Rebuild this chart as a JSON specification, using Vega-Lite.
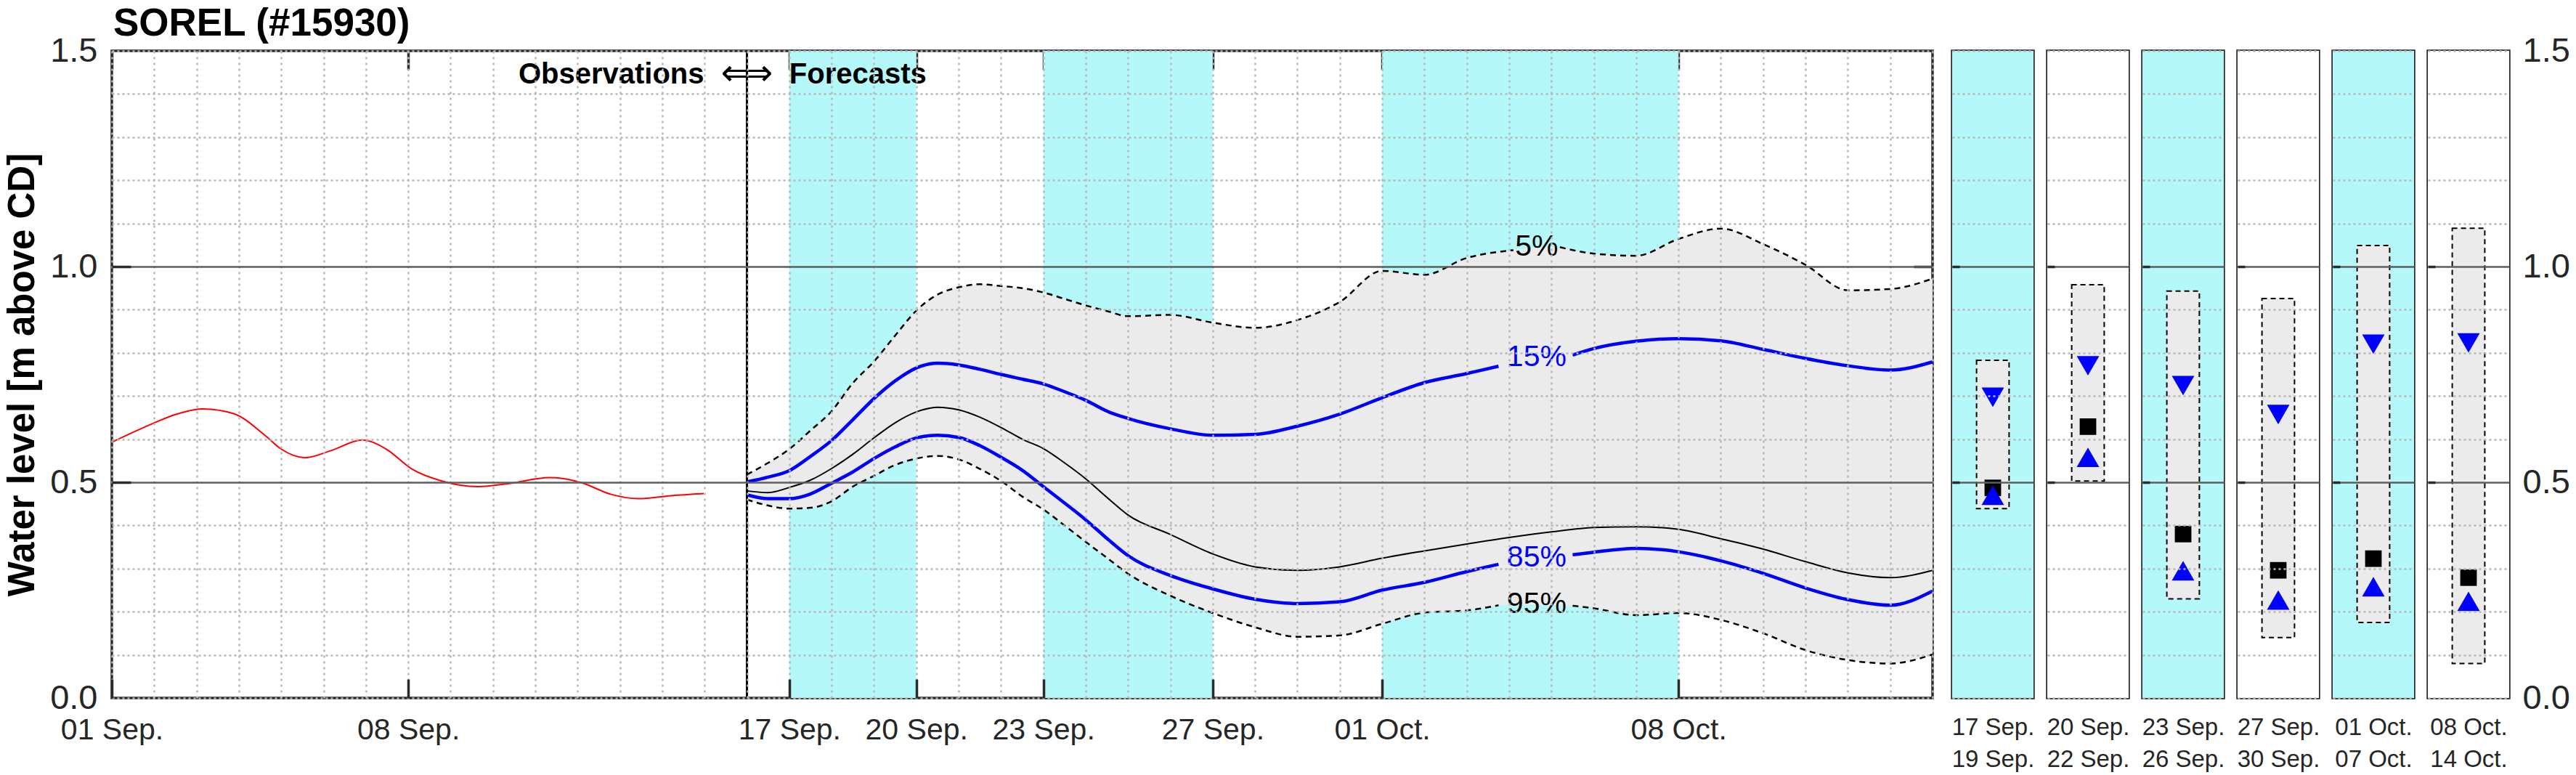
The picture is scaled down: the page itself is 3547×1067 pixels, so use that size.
{
  "$schema": "https://vega.github.io/schema/vega-lite/v6.json",
  "background": "white",
  "padding": {"left": 3, "top": 5, "right": 0, "bottom": 0},
  "config": {
    "font": "Liberation Sans",
    "view": {"stroke": "#2b2b2b", "strokeWidth": 3.5},
    "axis": {"labelFont": "Liberation Sans", "labelColor": "#262626", "domain": false, "labelOverlap": false, "labelFlush": false, "tickColor": "#2b2b2b", "tickWidth": 3.5}
  },
  "datasets": {
    "bands": [
      {"s": "2023-09-17T00:00", "e": "2023-09-20T00:00"},
      {"s": "2023-09-23T00:00", "e": "2023-09-27T00:00"},
      {"s": "2023-10-01T00:00", "e": "2023-10-08T00:00"}
    ],
    "obs": [
      {"t": "2023-09-01T00:00", "v": 0.593},
      {"t": "2023-09-01T22:30", "v": 0.635},
      {"t": "2023-09-02T12:00", "v": 0.657},
      {"t": "2023-09-03T03:30", "v": 0.670},
      {"t": "2023-09-03T21:00", "v": 0.659},
      {"t": "2023-09-04T14:30", "v": 0.610},
      {"t": "2023-09-05T00:00", "v": 0.577},
      {"t": "2023-09-05T13:30", "v": 0.557},
      {"t": "2023-09-06T04:00", "v": 0.573},
      {"t": "2023-09-06T22:00", "v": 0.598},
      {"t": "2023-09-07T11:30", "v": 0.577},
      {"t": "2023-09-08T02:00", "v": 0.531},
      {"t": "2023-09-08T19:00", "v": 0.503},
      {"t": "2023-09-09T15:30", "v": 0.490},
      {"t": "2023-09-10T09:00", "v": 0.497},
      {"t": "2023-09-11T08:00", "v": 0.511},
      {"t": "2023-09-12T01:30", "v": 0.500},
      {"t": "2023-09-12T19:00", "v": 0.472},
      {"t": "2023-09-13T10:30", "v": 0.462},
      {"t": "2023-09-14T05:00", "v": 0.469},
      {"t": "2023-09-14T23:30", "v": 0.474}
    ],
    "band": [
      {"t": "2023-09-16T00:00", "lo": 0.460, "hi": 0.518},
      {"t": "2023-09-16T12:00", "lo": 0.446, "hi": 0.545},
      {"t": "2023-09-17T00:00", "lo": 0.439, "hi": 0.577},
      {"t": "2023-09-17T12:00", "lo": 0.441, "hi": 0.620},
      {"t": "2023-09-18T00:00", "lo": 0.456, "hi": 0.665},
      {"t": "2023-09-18T12:00", "lo": 0.490, "hi": 0.730},
      {"t": "2023-09-19T00:00", "lo": 0.515, "hi": 0.780},
      {"t": "2023-09-19T12:00", "lo": 0.540, "hi": 0.840},
      {"t": "2023-09-20T00:00", "lo": 0.555, "hi": 0.898},
      {"t": "2023-09-20T12:00", "lo": 0.561, "hi": 0.935},
      {"t": "2023-09-21T00:00", "lo": 0.553, "hi": 0.952},
      {"t": "2023-09-21T12:00", "lo": 0.531, "hi": 0.959},
      {"t": "2023-09-22T00:00", "lo": 0.503, "hi": 0.955},
      {"t": "2023-09-22T12:00", "lo": 0.467, "hi": 0.950},
      {"t": "2023-09-23T00:00", "lo": 0.437, "hi": 0.940},
      {"t": "2023-09-23T12:00", "lo": 0.400, "hi": 0.925},
      {"t": "2023-09-24T00:00", "lo": 0.362, "hi": 0.910},
      {"t": "2023-09-24T12:00", "lo": 0.325, "hi": 0.897},
      {"t": "2023-09-25T00:00", "lo": 0.288, "hi": 0.885},
      {"t": "2023-09-26T00:00", "lo": 0.237, "hi": 0.888},
      {"t": "2023-09-27T00:00", "lo": 0.197, "hi": 0.870},
      {"t": "2023-09-28T00:00", "lo": 0.164, "hi": 0.858},
      {"t": "2023-09-29T00:00", "lo": 0.142, "hi": 0.876},
      {"t": "2023-09-30T00:00", "lo": 0.145, "hi": 0.918},
      {"t": "2023-10-01T00:00", "lo": 0.172, "hi": 0.990},
      {"t": "2023-10-02T00:00", "lo": 0.198, "hi": 0.981},
      {"t": "2023-10-03T00:00", "lo": 0.203, "hi": 1.020},
      {"t": "2023-10-04T00:00", "lo": 0.216, "hi": 1.037},
      {"t": "2023-10-05T00:00", "lo": 0.215, "hi": 1.045},
      {"t": "2023-10-06T00:00", "lo": 0.208, "hi": 1.030},
      {"t": "2023-10-07T00:00", "lo": 0.192, "hi": 1.025},
      {"t": "2023-10-08T00:00", "lo": 0.197, "hi": 1.064},
      {"t": "2023-10-09T00:00", "lo": 0.181, "hi": 1.088},
      {"t": "2023-10-10T00:00", "lo": 0.150, "hi": 1.052},
      {"t": "2023-10-11T00:00", "lo": 0.111, "hi": 1.004},
      {"t": "2023-10-12T00:00", "lo": 0.088, "hi": 0.945},
      {"t": "2023-10-13T00:00", "lo": 0.080, "hi": 0.948},
      {"t": "2023-10-14T00:00", "lo": 0.101, "hi": 0.972}
    ],
    "lines": [
      {"s": "p05", "g": 1, "t": "2023-09-16T00:00", "v": 0.518},
      {"s": "p05", "g": 1, "t": "2023-09-16T12:00", "v": 0.545},
      {"s": "p05", "g": 1, "t": "2023-09-17T00:00", "v": 0.577},
      {"s": "p05", "g": 1, "t": "2023-09-17T12:00", "v": 0.620},
      {"s": "p05", "g": 1, "t": "2023-09-18T00:00", "v": 0.665},
      {"s": "p05", "g": 1, "t": "2023-09-18T12:00", "v": 0.730},
      {"s": "p05", "g": 1, "t": "2023-09-19T00:00", "v": 0.780},
      {"s": "p05", "g": 1, "t": "2023-09-19T12:00", "v": 0.840},
      {"s": "p05", "g": 1, "t": "2023-09-20T00:00", "v": 0.898},
      {"s": "p05", "g": 1, "t": "2023-09-20T12:00", "v": 0.935},
      {"s": "p05", "g": 1, "t": "2023-09-21T00:00", "v": 0.952},
      {"s": "p05", "g": 1, "t": "2023-09-21T12:00", "v": 0.959},
      {"s": "p05", "g": 1, "t": "2023-09-22T00:00", "v": 0.955},
      {"s": "p05", "g": 1, "t": "2023-09-22T12:00", "v": 0.950},
      {"s": "p05", "g": 1, "t": "2023-09-23T00:00", "v": 0.940},
      {"s": "p05", "g": 1, "t": "2023-09-23T12:00", "v": 0.925},
      {"s": "p05", "g": 1, "t": "2023-09-24T00:00", "v": 0.910},
      {"s": "p05", "g": 1, "t": "2023-09-24T12:00", "v": 0.897},
      {"s": "p05", "g": 1, "t": "2023-09-25T00:00", "v": 0.885},
      {"s": "p05", "g": 1, "t": "2023-09-26T00:00", "v": 0.888},
      {"s": "p05", "g": 1, "t": "2023-09-27T00:00", "v": 0.870},
      {"s": "p05", "g": 1, "t": "2023-09-28T00:00", "v": 0.858},
      {"s": "p05", "g": 1, "t": "2023-09-29T00:00", "v": 0.876},
      {"s": "p05", "g": 1, "t": "2023-09-30T00:00", "v": 0.918},
      {"s": "p05", "g": 1, "t": "2023-10-01T00:00", "v": 0.990},
      {"s": "p05", "g": 1, "t": "2023-10-02T00:00", "v": 0.981},
      {"s": "p05", "g": 1, "t": "2023-10-03T00:00", "v": 1.020},
      {"s": "p05", "g": 1, "t": "2023-10-04T00:00", "v": 1.037},
      {"s": "p05", "g": 1, "t": "2023-10-04T02:24", "v": 1.038},
      {"s": "p05", "g": 2, "t": "2023-10-05T04:48", "v": 1.045},
      {"s": "p05", "g": 2, "t": "2023-10-06T00:00", "v": 1.030},
      {"s": "p05", "g": 2, "t": "2023-10-07T00:00", "v": 1.025},
      {"s": "p05", "g": 2, "t": "2023-10-08T00:00", "v": 1.064},
      {"s": "p05", "g": 2, "t": "2023-10-09T00:00", "v": 1.088},
      {"s": "p05", "g": 2, "t": "2023-10-10T00:00", "v": 1.052},
      {"s": "p05", "g": 2, "t": "2023-10-11T00:00", "v": 1.004},
      {"s": "p05", "g": 2, "t": "2023-10-12T00:00", "v": 0.945},
      {"s": "p05", "g": 2, "t": "2023-10-13T00:00", "v": 0.948},
      {"s": "p05", "g": 2, "t": "2023-10-14T00:00", "v": 0.972},

      {"s": "p15", "g": 1, "t": "2023-09-16T00:00", "v": 0.501},
      {"s": "p15", "g": 1, "t": "2023-09-16T12:00", "v": 0.512},
      {"s": "p15", "g": 1, "t": "2023-09-17T00:00", "v": 0.527},
      {"s": "p15", "g": 1, "t": "2023-09-17T12:00", "v": 0.560},
      {"s": "p15", "g": 1, "t": "2023-09-18T00:00", "v": 0.597},
      {"s": "p15", "g": 1, "t": "2023-09-18T12:00", "v": 0.645},
      {"s": "p15", "g": 1, "t": "2023-09-19T00:00", "v": 0.694},
      {"s": "p15", "g": 1, "t": "2023-09-19T12:00", "v": 0.735},
      {"s": "p15", "g": 1, "t": "2023-09-20T00:00", "v": 0.765},
      {"s": "p15", "g": 1, "t": "2023-09-20T12:00", "v": 0.776},
      {"s": "p15", "g": 1, "t": "2023-09-21T00:00", "v": 0.772},
      {"s": "p15", "g": 1, "t": "2023-09-21T12:00", "v": 0.762},
      {"s": "p15", "g": 1, "t": "2023-09-22T00:00", "v": 0.750},
      {"s": "p15", "g": 1, "t": "2023-09-22T12:00", "v": 0.739},
      {"s": "p15", "g": 1, "t": "2023-09-23T00:00", "v": 0.728},
      {"s": "p15", "g": 1, "t": "2023-09-23T12:00", "v": 0.710},
      {"s": "p15", "g": 1, "t": "2023-09-24T00:00", "v": 0.690},
      {"s": "p15", "g": 1, "t": "2023-09-24T12:00", "v": 0.665},
      {"s": "p15", "g": 1, "t": "2023-09-25T00:00", "v": 0.648},
      {"s": "p15", "g": 1, "t": "2023-09-26T00:00", "v": 0.624},
      {"s": "p15", "g": 1, "t": "2023-09-27T00:00", "v": 0.609},
      {"s": "p15", "g": 1, "t": "2023-09-28T00:00", "v": 0.611},
      {"s": "p15", "g": 1, "t": "2023-09-29T00:00", "v": 0.630},
      {"s": "p15", "g": 1, "t": "2023-09-30T00:00", "v": 0.658},
      {"s": "p15", "g": 1, "t": "2023-10-01T00:00", "v": 0.696},
      {"s": "p15", "g": 1, "t": "2023-10-02T00:00", "v": 0.731},
      {"s": "p15", "g": 1, "t": "2023-10-03T00:00", "v": 0.752},
      {"s": "p15", "g": 1, "t": "2023-10-03T18:00", "v": 0.769},
      {"s": "p15", "g": 2, "t": "2023-10-05T12:00", "v": 0.795},
      {"s": "p15", "g": 2, "t": "2023-10-06T00:00", "v": 0.810},
      {"s": "p15", "g": 2, "t": "2023-10-07T00:00", "v": 0.827},
      {"s": "p15", "g": 2, "t": "2023-10-08T00:00", "v": 0.833},
      {"s": "p15", "g": 2, "t": "2023-10-09T00:00", "v": 0.828},
      {"s": "p15", "g": 2, "t": "2023-10-10T00:00", "v": 0.808},
      {"s": "p15", "g": 2, "t": "2023-10-11T00:00", "v": 0.787},
      {"s": "p15", "g": 2, "t": "2023-10-12T00:00", "v": 0.770},
      {"s": "p15", "g": 2, "t": "2023-10-13T00:00", "v": 0.760},
      {"s": "p15", "g": 2, "t": "2023-10-14T00:00", "v": 0.779},

      {"s": "p50", "g": 1, "t": "2023-09-16T00:00", "v": 0.480},
      {"s": "p50", "g": 1, "t": "2023-09-16T12:00", "v": 0.476},
      {"s": "p50", "g": 1, "t": "2023-09-17T00:00", "v": 0.488},
      {"s": "p50", "g": 1, "t": "2023-09-17T12:00", "v": 0.505},
      {"s": "p50", "g": 1, "t": "2023-09-18T00:00", "v": 0.532},
      {"s": "p50", "g": 1, "t": "2023-09-18T12:00", "v": 0.565},
      {"s": "p50", "g": 1, "t": "2023-09-19T00:00", "v": 0.603},
      {"s": "p50", "g": 1, "t": "2023-09-19T12:00", "v": 0.638},
      {"s": "p50", "g": 1, "t": "2023-09-20T00:00", "v": 0.663},
      {"s": "p50", "g": 1, "t": "2023-09-20T12:00", "v": 0.674},
      {"s": "p50", "g": 1, "t": "2023-09-21T00:00", "v": 0.668},
      {"s": "p50", "g": 1, "t": "2023-09-21T12:00", "v": 0.651},
      {"s": "p50", "g": 1, "t": "2023-09-22T00:00", "v": 0.627},
      {"s": "p50", "g": 1, "t": "2023-09-22T12:00", "v": 0.600},
      {"s": "p50", "g": 1, "t": "2023-09-23T00:00", "v": 0.578},
      {"s": "p50", "g": 1, "t": "2023-09-23T12:00", "v": 0.545},
      {"s": "p50", "g": 1, "t": "2023-09-24T00:00", "v": 0.508},
      {"s": "p50", "g": 1, "t": "2023-09-24T12:00", "v": 0.465},
      {"s": "p50", "g": 1, "t": "2023-09-25T00:00", "v": 0.424},
      {"s": "p50", "g": 1, "t": "2023-09-26T00:00", "v": 0.379},
      {"s": "p50", "g": 1, "t": "2023-09-27T00:00", "v": 0.334},
      {"s": "p50", "g": 1, "t": "2023-09-28T00:00", "v": 0.304},
      {"s": "p50", "g": 1, "t": "2023-09-29T00:00", "v": 0.296},
      {"s": "p50", "g": 1, "t": "2023-09-30T00:00", "v": 0.304},
      {"s": "p50", "g": 1, "t": "2023-10-01T00:00", "v": 0.324},
      {"s": "p50", "g": 1, "t": "2023-10-02T00:00", "v": 0.341},
      {"s": "p50", "g": 1, "t": "2023-10-03T00:00", "v": 0.357},
      {"s": "p50", "g": 1, "t": "2023-10-04T00:00", "v": 0.372},
      {"s": "p50", "g": 1, "t": "2023-10-05T00:00", "v": 0.385},
      {"s": "p50", "g": 1, "t": "2023-10-06T00:00", "v": 0.395},
      {"s": "p50", "g": 1, "t": "2023-10-07T00:00", "v": 0.397},
      {"s": "p50", "g": 1, "t": "2023-10-08T00:00", "v": 0.391},
      {"s": "p50", "g": 1, "t": "2023-10-09T00:00", "v": 0.369},
      {"s": "p50", "g": 1, "t": "2023-10-10T00:00", "v": 0.345},
      {"s": "p50", "g": 1, "t": "2023-10-11T00:00", "v": 0.316},
      {"s": "p50", "g": 1, "t": "2023-10-12T00:00", "v": 0.290},
      {"s": "p50", "g": 1, "t": "2023-10-13T00:00", "v": 0.279},
      {"s": "p50", "g": 1, "t": "2023-10-14T00:00", "v": 0.296},

      {"s": "p85", "g": 1, "t": "2023-09-16T00:00", "v": 0.471},
      {"s": "p85", "g": 1, "t": "2023-09-16T12:00", "v": 0.462},
      {"s": "p85", "g": 1, "t": "2023-09-17T00:00", "v": 0.462},
      {"s": "p85", "g": 1, "t": "2023-09-17T12:00", "v": 0.473},
      {"s": "p85", "g": 1, "t": "2023-09-18T00:00", "v": 0.498},
      {"s": "p85", "g": 1, "t": "2023-09-18T12:00", "v": 0.524},
      {"s": "p85", "g": 1, "t": "2023-09-19T00:00", "v": 0.555},
      {"s": "p85", "g": 1, "t": "2023-09-19T12:00", "v": 0.582},
      {"s": "p85", "g": 1, "t": "2023-09-20T00:00", "v": 0.603},
      {"s": "p85", "g": 1, "t": "2023-09-20T12:00", "v": 0.609},
      {"s": "p85", "g": 1, "t": "2023-09-21T00:00", "v": 0.604},
      {"s": "p85", "g": 1, "t": "2023-09-21T12:00", "v": 0.585},
      {"s": "p85", "g": 1, "t": "2023-09-22T00:00", "v": 0.558},
      {"s": "p85", "g": 1, "t": "2023-09-22T12:00", "v": 0.528},
      {"s": "p85", "g": 1, "t": "2023-09-23T00:00", "v": 0.490},
      {"s": "p85", "g": 1, "t": "2023-09-23T12:00", "v": 0.452},
      {"s": "p85", "g": 1, "t": "2023-09-24T00:00", "v": 0.413},
      {"s": "p85", "g": 1, "t": "2023-09-24T12:00", "v": 0.370},
      {"s": "p85", "g": 1, "t": "2023-09-25T00:00", "v": 0.330},
      {"s": "p85", "g": 1, "t": "2023-09-26T00:00", "v": 0.284},
      {"s": "p85", "g": 1, "t": "2023-09-27T00:00", "v": 0.253},
      {"s": "p85", "g": 1, "t": "2023-09-28T00:00", "v": 0.229},
      {"s": "p85", "g": 1, "t": "2023-09-29T00:00", "v": 0.219},
      {"s": "p85", "g": 1, "t": "2023-09-30T00:00", "v": 0.223},
      {"s": "p85", "g": 1, "t": "2023-10-01T00:00", "v": 0.250},
      {"s": "p85", "g": 1, "t": "2023-10-02T00:00", "v": 0.268},
      {"s": "p85", "g": 1, "t": "2023-10-03T00:00", "v": 0.293},
      {"s": "p85", "g": 1, "t": "2023-10-03T18:00", "v": 0.310},
      {"s": "p85", "g": 2, "t": "2023-10-05T12:00", "v": 0.332},
      {"s": "p85", "g": 2, "t": "2023-10-06T00:00", "v": 0.338},
      {"s": "p85", "g": 2, "t": "2023-10-07T00:00", "v": 0.347},
      {"s": "p85", "g": 2, "t": "2023-10-08T00:00", "v": 0.339},
      {"s": "p85", "g": 2, "t": "2023-10-09T00:00", "v": 0.318},
      {"s": "p85", "g": 2, "t": "2023-10-10T00:00", "v": 0.289},
      {"s": "p85", "g": 2, "t": "2023-10-11T00:00", "v": 0.255},
      {"s": "p85", "g": 2, "t": "2023-10-12T00:00", "v": 0.228},
      {"s": "p85", "g": 2, "t": "2023-10-13T00:00", "v": 0.215},
      {"s": "p85", "g": 2, "t": "2023-10-14T00:00", "v": 0.248},

      {"s": "p95", "g": 1, "t": "2023-09-16T00:00", "v": 0.460},
      {"s": "p95", "g": 1, "t": "2023-09-16T12:00", "v": 0.446},
      {"s": "p95", "g": 1, "t": "2023-09-17T00:00", "v": 0.439},
      {"s": "p95", "g": 1, "t": "2023-09-17T12:00", "v": 0.441},
      {"s": "p95", "g": 1, "t": "2023-09-18T00:00", "v": 0.456},
      {"s": "p95", "g": 1, "t": "2023-09-18T12:00", "v": 0.490},
      {"s": "p95", "g": 1, "t": "2023-09-19T00:00", "v": 0.515},
      {"s": "p95", "g": 1, "t": "2023-09-19T12:00", "v": 0.540},
      {"s": "p95", "g": 1, "t": "2023-09-20T00:00", "v": 0.555},
      {"s": "p95", "g": 1, "t": "2023-09-20T12:00", "v": 0.561},
      {"s": "p95", "g": 1, "t": "2023-09-21T00:00", "v": 0.553},
      {"s": "p95", "g": 1, "t": "2023-09-21T12:00", "v": 0.531},
      {"s": "p95", "g": 1, "t": "2023-09-22T00:00", "v": 0.503},
      {"s": "p95", "g": 1, "t": "2023-09-22T12:00", "v": 0.467},
      {"s": "p95", "g": 1, "t": "2023-09-23T00:00", "v": 0.437},
      {"s": "p95", "g": 1, "t": "2023-09-23T12:00", "v": 0.400},
      {"s": "p95", "g": 1, "t": "2023-09-24T00:00", "v": 0.362},
      {"s": "p95", "g": 1, "t": "2023-09-24T12:00", "v": 0.325},
      {"s": "p95", "g": 1, "t": "2023-09-25T00:00", "v": 0.288},
      {"s": "p95", "g": 1, "t": "2023-09-26T00:00", "v": 0.237},
      {"s": "p95", "g": 1, "t": "2023-09-27T00:00", "v": 0.197},
      {"s": "p95", "g": 1, "t": "2023-09-28T00:00", "v": 0.164},
      {"s": "p95", "g": 1, "t": "2023-09-29T00:00", "v": 0.142},
      {"s": "p95", "g": 1, "t": "2023-09-30T00:00", "v": 0.145},
      {"s": "p95", "g": 1, "t": "2023-10-01T00:00", "v": 0.172},
      {"s": "p95", "g": 1, "t": "2023-10-02T00:00", "v": 0.198},
      {"s": "p95", "g": 1, "t": "2023-10-03T00:00", "v": 0.203},
      {"s": "p95", "g": 1, "t": "2023-10-03T18:00", "v": 0.215},
      {"s": "p95", "g": 2, "t": "2023-10-05T12:00", "v": 0.214},
      {"s": "p95", "g": 2, "t": "2023-10-06T00:00", "v": 0.208},
      {"s": "p95", "g": 2, "t": "2023-10-07T00:00", "v": 0.192},
      {"s": "p95", "g": 2, "t": "2023-10-08T00:00", "v": 0.197},
      {"s": "p95", "g": 2, "t": "2023-10-09T00:00", "v": 0.181},
      {"s": "p95", "g": 2, "t": "2023-10-10T00:00", "v": 0.150},
      {"s": "p95", "g": 2, "t": "2023-10-11T00:00", "v": 0.111},
      {"s": "p95", "g": 2, "t": "2023-10-12T00:00", "v": 0.088},
      {"s": "p95", "g": 2, "t": "2023-10-13T00:00", "v": 0.080},
      {"s": "p95", "g": 2, "t": "2023-10-14T00:00", "v": 0.101}
    ],
    "pct": [
      {"s": "p05", "t": "2023-10-04T15:36", "v": 1.045, "txt": "5%"},
      {"s": "p15", "t": "2023-10-04T15:36", "v": 0.790, "txt": "15%"},
      {"s": "p85", "t": "2023-10-04T15:36", "v": 0.325, "txt": "85%"},
      {"s": "p95", "t": "2023-10-04T15:36", "v": 0.217, "txt": "95%"}
    ],
    "panels": [
      {"p": 1, "shade": true, "top": 0.783, "bot": 0.439, "q15": 0.697, "q50": 0.487, "q85": 0.470},
      {"p": 2, "shade": false, "top": 0.958, "bot": 0.503, "q15": 0.770, "q50": 0.629, "q85": 0.558},
      {"p": 3, "shade": true, "top": 0.943, "bot": 0.230, "q15": 0.724, "q50": 0.380, "q85": 0.295},
      {"p": 4, "shade": false, "top": 0.926, "bot": 0.140, "q15": 0.657, "q50": 0.296, "q85": 0.227},
      {"p": 5, "shade": true, "top": 1.049, "bot": 0.175, "q15": 0.820, "q50": 0.323, "q85": 0.258},
      {"p": 6, "shade": false, "top": 1.089, "bot": 0.080, "q15": 0.823, "q50": 0.279, "q85": 0.224}
    ]
  },
  "spacing": 12,
  "hconcat": [
    {
      "width": 2507,
      "height": 891,
      "layer": [
        {
          "data": {"name": "bands"},
          "mark": {"type": "rect", "color": "#b4f8fa"},
          "encoding": {
            "x": {"field": "s", "type": "temporal",
              "scale": {"domain": [{"year": 2023, "month": 9, "date": 1}, {"year": 2023, "month": 10, "date": 14}], "nice": false},
              "axis": {"orient": "bottom", "title": null,
                "values": [
                  {"year": 2023, "month": 9, "date": 1}, {"year": 2023, "month": 9, "date": 2}, {"year": 2023, "month": 9, "date": 3}, {"year": 2023, "month": 9, "date": 4}, {"year": 2023, "month": 9, "date": 5}, {"year": 2023, "month": 9, "date": 6}, {"year": 2023, "month": 9, "date": 7}, {"year": 2023, "month": 9, "date": 8}, {"year": 2023, "month": 9, "date": 9}, {"year": 2023, "month": 9, "date": 10},
                  {"year": 2023, "month": 9, "date": 11}, {"year": 2023, "month": 9, "date": 12}, {"year": 2023, "month": 9, "date": 13}, {"year": 2023, "month": 9, "date": 14}, {"year": 2023, "month": 9, "date": 15}, {"year": 2023, "month": 9, "date": 16}, {"year": 2023, "month": 9, "date": 17}, {"year": 2023, "month": 9, "date": 18}, {"year": 2023, "month": 9, "date": 19}, {"year": 2023, "month": 9, "date": 20},
                  {"year": 2023, "month": 9, "date": 21}, {"year": 2023, "month": 9, "date": 22}, {"year": 2023, "month": 9, "date": 23}, {"year": 2023, "month": 9, "date": 24}, {"year": 2023, "month": 9, "date": 25}, {"year": 2023, "month": 9, "date": 26}, {"year": 2023, "month": 9, "date": 27}, {"year": 2023, "month": 9, "date": 28}, {"year": 2023, "month": 9, "date": 29}, {"year": 2023, "month": 9, "date": 30},
                  {"year": 2023, "month": 10, "date": 1}, {"year": 2023, "month": 10, "date": 2}, {"year": 2023, "month": 10, "date": 3}, {"year": 2023, "month": 10, "date": 4}, {"year": 2023, "month": 10, "date": 5}, {"year": 2023, "month": 10, "date": 6}, {"year": 2023, "month": 10, "date": 7}, {"year": 2023, "month": 10, "date": 8}, {"year": 2023, "month": 10, "date": 9}, {"year": 2023, "month": 10, "date": 10},
                  {"year": 2023, "month": 10, "date": 11}, {"year": 2023, "month": 10, "date": 12}, {"year": 2023, "month": 10, "date": 13}, {"year": 2023, "month": 10, "date": 14}
                ],
                "grid": true, "gridColor": "#b8b8b8", "gridDash": [3, 5], "gridWidth": 2.5,
                "tickSize": -26,
                "tickOpacity": {"condition": {"test": "(month(datum.value)==8 && indexof([1,8,17,20,23,27], date(datum.value))>=0) || (month(datum.value)==9 && indexof([1,8], date(datum.value))>=0)", "value": 1}, "value": 0},
                "labelExpr": "(month(datum.value)==8 && indexof([1,8,17,20,23,27], date(datum.value))>=0) || (month(datum.value)==9 && indexof([1,8], date(datum.value))>=0) ? timeFormat(datum.value, '%d %b.') : ''",
                "labelFontSize": 41, "labelPadding": 50, "zindex": 1}
            },
            "x2": {"field": "e"},
            "y": {"datum": 0, "type": "quantitative",
              "scale": {"domain": [0, 1.5], "nice": false},
              "axis": {"orient": "left",
                "title": "Water level [m above CD]", "titleFontSize": 51, "titleFontWeight": "bold", "titleFont": "Liberation Sans", "titleColor": "#000000", "titlePadding": 11,
                "values": [0, 0.1, 0.2, 0.3, 0.4, 0.5, 0.6, 0.7, 0.8, 0.9, 1.0, 1.1, 1.2, 1.3, 1.4, 1.5],
                "grid": true,
                "gridColor": {"condition": {"test": "abs(datum.value-0.5)<0.01 || abs(datum.value-1)<0.01", "value": "#5e5e5e"}, "value": "#b8b8b8"},
                "gridDash": {"condition": {"test": "abs(datum.value-0.5)<0.01 || abs(datum.value-1)<0.01", "value": [10, 0]}, "value": [3, 4]},
                "gridWidth": 2.5,
                "tickSize": -26,
                "tickOpacity": {"condition": {"test": "abs(datum.value-0.5)<0.01 || abs(datum.value-1)<0.01", "value": 1}, "value": 0},
                "labelExpr": "abs(datum.value*2-round(datum.value*2))<0.01 ? format(datum.value, '.1f') : ''",
                "labelFontSize": 47, "labelPadding": 46, "zindex": 1}
            },
            "y2": {"datum": 1.5}
          }
        },
        {
          "data": {"name": "band"},
          "mark": {"type": "area", "color": "#ebebeb", "interpolate": "monotone", "opacity": 1},
          "encoding": {
            "x": {"field": "t", "type": "temporal",
              "axis": {"orient": "top", "title": null, "labels": false, "grid": false, "tickSize": -26,
                "values": [{"year": 2023, "month": 9, "date": 1}, {"year": 2023, "month": 9, "date": 8}, {"year": 2023, "month": 9, "date": 17}, {"year": 2023, "month": 9, "date": 20}, {"year": 2023, "month": 9, "date": 23}, {"year": 2023, "month": 9, "date": 27}, {"year": 2023, "month": 10, "date": 1}, {"year": 2023, "month": 10, "date": 8}]}},
            "y": {"field": "lo", "type": "quantitative",
              "axis": {"orient": "right", "title": null, "labels": false, "grid": false, "tickSize": -26, "values": [0.5, 1.0]}},
            "y2": {"field": "hi"}
          }
        },
        {
          "data": {"name": "lines"},
          "transform": [{"filter": "datum.s == 'p05' || datum.s == 'p95'"}],
          "mark": {"type": "line", "interpolate": "monotone", "color": "#000000", "strokeWidth": 2.5, "strokeDash": [8, 6]},
          "encoding": {
            "x": {"field": "t", "type": "temporal", "axis": null},
            "y": {"field": "v", "type": "quantitative", "axis": null},
            "detail": [{"field": "s", "type": "nominal"}, {"field": "g", "type": "nominal"}]
          }
        },
        {
          "data": {"name": "lines"},
          "transform": [{"filter": "datum.s == 'p50'"}],
          "mark": {"type": "line", "interpolate": "monotone", "color": "#000000", "strokeWidth": 2},
          "encoding": {
            "x": {"field": "t", "type": "temporal", "axis": null},
            "y": {"field": "v", "type": "quantitative", "axis": null},
            "detail": [{"field": "s", "type": "nominal"}, {"field": "g", "type": "nominal"}]
          }
        },
        {
          "data": {"name": "lines"},
          "transform": [{"filter": "datum.s == 'p15' || datum.s == 'p85'"}],
          "mark": {"type": "line", "interpolate": "monotone", "color": "#0000ff", "strokeWidth": 4.5},
          "encoding": {
            "x": {"field": "t", "type": "temporal", "axis": null},
            "y": {"field": "v", "type": "quantitative", "axis": null},
            "detail": [{"field": "s", "type": "nominal"}, {"field": "g", "type": "nominal"}]
          }
        },
        {
          "data": {"name": "obs"},
          "mark": {"type": "line", "interpolate": "monotone", "color": "#ff0000", "strokeWidth": 2},
          "encoding": {
            "x": {"field": "t", "type": "temporal", "axis": null},
            "y": {"field": "v", "type": "quantitative", "axis": null}
          }
        },
        {
          "data": {"values": [{"t": "2023-09-16T00:00"}]},
          "mark": {"type": "rule", "color": "#000000", "strokeWidth": 3},
          "encoding": {
            "x": {"field": "t", "type": "temporal", "axis": null}
          }
        },
        {
          "data": {"name": "pct"},
          "mark": {"type": "text", "fontSize": 41, "font": "Liberation Sans", "align": "center", "baseline": "middle"},
          "encoding": {
            "x": {"field": "t", "type": "temporal", "axis": null},
            "y": {"field": "v", "type": "quantitative", "axis": null},
            "text": {"field": "txt"},
            "color": {"field": "s", "type": "nominal", "legend": null,
              "scale": {"domain": ["p05", "p15", "p85", "p95"], "range": ["#000000", "#0000ff", "#0000ff", "#000000"]}}
          }
        },
        {
          "data": {"values": [{"t": "2023-09-16T00:00", "v": 1.424, "txt": "Observations"}]},
          "mark": {"type": "text", "fontSize": 40, "fontWeight": "bold", "font": "Liberation Sans", "align": "right", "baseline": "alphabetic", "dx": -59, "color": "#000000"},
          "encoding": {
            "x": {"field": "t", "type": "temporal", "axis": null},
            "y": {"field": "v", "type": "quantitative", "axis": null},
            "text": {"field": "txt"}
          }
        },
        {
          "data": {"values": [{"t": "2023-09-16T00:00", "v": 1.424, "txt": "⟺"}]},
          "mark": {"type": "text", "fontSize": 50, "font": "DejaVu Sans", "align": "center", "baseline": "alphabetic", "dy": 2, "color": "#000000"},
          "encoding": {
            "x": {"field": "t", "type": "temporal", "axis": null},
            "y": {"field": "v", "type": "quantitative", "axis": null},
            "text": {"field": "txt"}
          }
        },
        {
          "data": {"values": [{"t": "2023-09-17T00:00", "v": 1.424, "txt": "Forecasts"}]},
          "mark": {"type": "text", "fontSize": 40, "fontWeight": "bold", "font": "Liberation Sans", "align": "left", "baseline": "alphabetic", "color": "#000000"},
          "encoding": {
            "x": {"field": "t", "type": "temporal", "axis": null},
            "y": {"field": "v", "type": "quantitative", "axis": null},
            "text": {"field": "txt"}
          }
        },
        {
          "data": {"values": [{"t": "2023-09-01T00:00", "v": 1.5, "txt": "SOREL (#15930)"}]},
          "mark": {"type": "text", "fontSize": 53, "fontWeight": "bold", "font": "Liberation Sans", "align": "left", "baseline": "alphabetic", "dx": 2, "dy": -21, "color": "#000000"},
          "encoding": {
            "x": {"field": "t", "type": "temporal", "axis": null},
            "y": {"field": "v", "type": "quantitative", "axis": null},
            "text": {"field": "txt"}
          }
        }
      ],
      "resolve": {"axis": {"x": "independent", "y": "independent"}}
    },
    {
      "spacing": 11,
      "hconcat": [
        {
          "width": 112, "height": 891,
          "data": {"name": "panels"},
          "transform": [{"filter": "datum.p == 1"}],
          "layer": [
            {"mark": {"type": "rect"},
             "encoding": {
               "x": {"datum": 0, "type": "quantitative", "scale": {"domain": [0, 1], "nice": false},
                 "axis": {"orient": "bottom", "title": null, "values": [0.5], "grid": false, "tickSize": -11, "labelExpr": "['17 Sep.', '19 Sep.']", "labelFontSize": 33, "labelLineHeight": 44, "labelPadding": 35}},
               "x2": {"datum": 1},
               "y": {"datum": 0, "type": "quantitative", "scale": {"domain": [0, 1.5], "nice": false},
                 "axis": {"orient": "left", "title": null, "labels": false, "values": [0, 0.1, 0.2, 0.3, 0.4, 0.5, 0.6, 0.7, 0.8, 0.9, 1.0, 1.1, 1.2, 1.3, 1.4, 1.5], "grid": true,
                   "gridColor": {"condition": {"test": "abs(datum.value-0.5)<0.01 || abs(datum.value-1)<0.01", "value": "#5e5e5e"}, "value": "#b8b8b8"},
                   "gridDash": {"condition": {"test": "abs(datum.value-0.5)<0.01 || abs(datum.value-1)<0.01", "value": [10, 0]}, "value": [3, 4]},
                   "gridWidth": 2.5, "tickSize": -10,
                   "tickOpacity": {"condition": {"test": "abs(datum.value-0.5)<0.01 || abs(datum.value-1)<0.01", "value": 1}, "value": 0}, "zindex": 1}},
               "y2": {"datum": 1.5},
               "fill": {"condition": {"test": "datum.shade", "value": "#b4f8fa"}, "value": "#ffffff"}
             }},
            {"mark": {"type": "rect", "fill": "#ebebeb", "stroke": "#000000", "strokeDash": [7, 5], "strokeWidth": 2},
             "encoding": {
               "x": {"datum": 0.3, "type": "quantitative", "axis": {"orient": "top", "title": null, "values": [0.5], "labels": false, "grid": false, "tickSize": -11}},
               "x2": {"datum": 0.7},
               "y": {"field": "bot", "type": "quantitative", "axis": {"orient": "right", "title": null, "values": [0.5, 1.0], "labels": false, "grid": false, "tickSize": -10}},
               "y2": {"field": "top"}
             }},
            {"mark": {"type": "point", "shape": "square", "filled": true, "color": "#000000", "size": 520, "opacity": 1},
             "encoding": {"x": {"datum": 0.5, "type": "quantitative", "axis": null}, "y": {"field": "q50", "type": "quantitative", "axis": null}}},
            {"mark": {"type": "point", "shape": "triangle-down", "filled": true, "color": "#0000ff", "size": 960, "opacity": 1},
             "encoding": {"x": {"datum": 0.5, "type": "quantitative", "axis": null}, "y": {"field": "q15", "type": "quantitative", "axis": null}}},
            {"mark": {"type": "point", "shape": "triangle-up", "filled": true, "color": "#0000ff", "size": 960, "opacity": 1},
             "encoding": {"x": {"datum": 0.5, "type": "quantitative", "axis": null}, "y": {"field": "q85", "type": "quantitative", "axis": null}}}
          ],
          "resolve": {"axis": {"x": "independent", "y": "independent"}}
        },
        {
          "width": 112, "height": 891,
          "data": {"name": "panels"},
          "transform": [{"filter": "datum.p == 2"}],
          "layer": [
            {"mark": {"type": "rect"},
             "encoding": {
               "x": {"datum": 0, "type": "quantitative", "scale": {"domain": [0, 1], "nice": false},
                 "axis": {"orient": "bottom", "title": null, "values": [0.5], "grid": false, "tickSize": -11, "labelExpr": "['20 Sep.', '22 Sep.']", "labelFontSize": 33, "labelLineHeight": 44, "labelPadding": 35}},
               "x2": {"datum": 1},
               "y": {"datum": 0, "type": "quantitative", "scale": {"domain": [0, 1.5], "nice": false},
                 "axis": {"orient": "left", "title": null, "labels": false, "values": [0, 0.1, 0.2, 0.3, 0.4, 0.5, 0.6, 0.7, 0.8, 0.9, 1.0, 1.1, 1.2, 1.3, 1.4, 1.5], "grid": true,
                   "gridColor": {"condition": {"test": "abs(datum.value-0.5)<0.01 || abs(datum.value-1)<0.01", "value": "#5e5e5e"}, "value": "#b8b8b8"},
                   "gridDash": {"condition": {"test": "abs(datum.value-0.5)<0.01 || abs(datum.value-1)<0.01", "value": [10, 0]}, "value": [3, 4]},
                   "gridWidth": 2.5, "tickSize": -10,
                   "tickOpacity": {"condition": {"test": "abs(datum.value-0.5)<0.01 || abs(datum.value-1)<0.01", "value": 1}, "value": 0}, "zindex": 1}},
               "y2": {"datum": 1.5},
               "fill": {"condition": {"test": "datum.shade", "value": "#b4f8fa"}, "value": "#ffffff"}
             }},
            {"mark": {"type": "rect", "fill": "#ebebeb", "stroke": "#000000", "strokeDash": [7, 5], "strokeWidth": 2},
             "encoding": {
               "x": {"datum": 0.3, "type": "quantitative", "axis": {"orient": "top", "title": null, "values": [0.5], "labels": false, "grid": false, "tickSize": -11}},
               "x2": {"datum": 0.7},
               "y": {"field": "bot", "type": "quantitative", "axis": {"orient": "right", "title": null, "values": [0.5, 1.0], "labels": false, "grid": false, "tickSize": -10}},
               "y2": {"field": "top"}
             }},
            {"mark": {"type": "point", "shape": "square", "filled": true, "color": "#000000", "size": 520, "opacity": 1},
             "encoding": {"x": {"datum": 0.5, "type": "quantitative", "axis": null}, "y": {"field": "q50", "type": "quantitative", "axis": null}}},
            {"mark": {"type": "point", "shape": "triangle-down", "filled": true, "color": "#0000ff", "size": 960, "opacity": 1},
             "encoding": {"x": {"datum": 0.5, "type": "quantitative", "axis": null}, "y": {"field": "q15", "type": "quantitative", "axis": null}}},
            {"mark": {"type": "point", "shape": "triangle-up", "filled": true, "color": "#0000ff", "size": 960, "opacity": 1},
             "encoding": {"x": {"datum": 0.5, "type": "quantitative", "axis": null}, "y": {"field": "q85", "type": "quantitative", "axis": null}}}
          ],
          "resolve": {"axis": {"x": "independent", "y": "independent"}}
        },
        {
          "width": 112, "height": 891,
          "data": {"name": "panels"},
          "transform": [{"filter": "datum.p == 3"}],
          "layer": [
            {"mark": {"type": "rect"},
             "encoding": {
               "x": {"datum": 0, "type": "quantitative", "scale": {"domain": [0, 1], "nice": false},
                 "axis": {"orient": "bottom", "title": null, "values": [0.5], "grid": false, "tickSize": -11, "labelExpr": "['23 Sep.', '26 Sep.']", "labelFontSize": 33, "labelLineHeight": 44, "labelPadding": 35}},
               "x2": {"datum": 1},
               "y": {"datum": 0, "type": "quantitative", "scale": {"domain": [0, 1.5], "nice": false},
                 "axis": {"orient": "left", "title": null, "labels": false, "values": [0, 0.1, 0.2, 0.3, 0.4, 0.5, 0.6, 0.7, 0.8, 0.9, 1.0, 1.1, 1.2, 1.3, 1.4, 1.5], "grid": true,
                   "gridColor": {"condition": {"test": "abs(datum.value-0.5)<0.01 || abs(datum.value-1)<0.01", "value": "#5e5e5e"}, "value": "#b8b8b8"},
                   "gridDash": {"condition": {"test": "abs(datum.value-0.5)<0.01 || abs(datum.value-1)<0.01", "value": [10, 0]}, "value": [3, 4]},
                   "gridWidth": 2.5, "tickSize": -10,
                   "tickOpacity": {"condition": {"test": "abs(datum.value-0.5)<0.01 || abs(datum.value-1)<0.01", "value": 1}, "value": 0}, "zindex": 1}},
               "y2": {"datum": 1.5},
               "fill": {"condition": {"test": "datum.shade", "value": "#b4f8fa"}, "value": "#ffffff"}
             }},
            {"mark": {"type": "rect", "fill": "#ebebeb", "stroke": "#000000", "strokeDash": [7, 5], "strokeWidth": 2},
             "encoding": {
               "x": {"datum": 0.3, "type": "quantitative", "axis": {"orient": "top", "title": null, "values": [0.5], "labels": false, "grid": false, "tickSize": -11}},
               "x2": {"datum": 0.7},
               "y": {"field": "bot", "type": "quantitative", "axis": {"orient": "right", "title": null, "values": [0.5, 1.0], "labels": false, "grid": false, "tickSize": -10}},
               "y2": {"field": "top"}
             }},
            {"mark": {"type": "point", "shape": "square", "filled": true, "color": "#000000", "size": 520, "opacity": 1},
             "encoding": {"x": {"datum": 0.5, "type": "quantitative", "axis": null}, "y": {"field": "q50", "type": "quantitative", "axis": null}}},
            {"mark": {"type": "point", "shape": "triangle-down", "filled": true, "color": "#0000ff", "size": 960, "opacity": 1},
             "encoding": {"x": {"datum": 0.5, "type": "quantitative", "axis": null}, "y": {"field": "q15", "type": "quantitative", "axis": null}}},
            {"mark": {"type": "point", "shape": "triangle-up", "filled": true, "color": "#0000ff", "size": 960, "opacity": 1},
             "encoding": {"x": {"datum": 0.5, "type": "quantitative", "axis": null}, "y": {"field": "q85", "type": "quantitative", "axis": null}}}
          ],
          "resolve": {"axis": {"x": "independent", "y": "independent"}}
        },
        {
          "width": 112, "height": 891,
          "data": {"name": "panels"},
          "transform": [{"filter": "datum.p == 4"}],
          "layer": [
            {"mark": {"type": "rect"},
             "encoding": {
               "x": {"datum": 0, "type": "quantitative", "scale": {"domain": [0, 1], "nice": false},
                 "axis": {"orient": "bottom", "title": null, "values": [0.5], "grid": false, "tickSize": -11, "labelExpr": "['27 Sep.', '30 Sep.']", "labelFontSize": 33, "labelLineHeight": 44, "labelPadding": 35}},
               "x2": {"datum": 1},
               "y": {"datum": 0, "type": "quantitative", "scale": {"domain": [0, 1.5], "nice": false},
                 "axis": {"orient": "left", "title": null, "labels": false, "values": [0, 0.1, 0.2, 0.3, 0.4, 0.5, 0.6, 0.7, 0.8, 0.9, 1.0, 1.1, 1.2, 1.3, 1.4, 1.5], "grid": true,
                   "gridColor": {"condition": {"test": "abs(datum.value-0.5)<0.01 || abs(datum.value-1)<0.01", "value": "#5e5e5e"}, "value": "#b8b8b8"},
                   "gridDash": {"condition": {"test": "abs(datum.value-0.5)<0.01 || abs(datum.value-1)<0.01", "value": [10, 0]}, "value": [3, 4]},
                   "gridWidth": 2.5, "tickSize": -10,
                   "tickOpacity": {"condition": {"test": "abs(datum.value-0.5)<0.01 || abs(datum.value-1)<0.01", "value": 1}, "value": 0}, "zindex": 1}},
               "y2": {"datum": 1.5},
               "fill": {"condition": {"test": "datum.shade", "value": "#b4f8fa"}, "value": "#ffffff"}
             }},
            {"mark": {"type": "rect", "fill": "#ebebeb", "stroke": "#000000", "strokeDash": [7, 5], "strokeWidth": 2},
             "encoding": {
               "x": {"datum": 0.3, "type": "quantitative", "axis": {"orient": "top", "title": null, "values": [0.5], "labels": false, "grid": false, "tickSize": -11}},
               "x2": {"datum": 0.7},
               "y": {"field": "bot", "type": "quantitative", "axis": {"orient": "right", "title": null, "values": [0.5, 1.0], "labels": false, "grid": false, "tickSize": -10}},
               "y2": {"field": "top"}
             }},
            {"mark": {"type": "point", "shape": "square", "filled": true, "color": "#000000", "size": 520, "opacity": 1},
             "encoding": {"x": {"datum": 0.5, "type": "quantitative", "axis": null}, "y": {"field": "q50", "type": "quantitative", "axis": null}}},
            {"mark": {"type": "point", "shape": "triangle-down", "filled": true, "color": "#0000ff", "size": 960, "opacity": 1},
             "encoding": {"x": {"datum": 0.5, "type": "quantitative", "axis": null}, "y": {"field": "q15", "type": "quantitative", "axis": null}}},
            {"mark": {"type": "point", "shape": "triangle-up", "filled": true, "color": "#0000ff", "size": 960, "opacity": 1},
             "encoding": {"x": {"datum": 0.5, "type": "quantitative", "axis": null}, "y": {"field": "q85", "type": "quantitative", "axis": null}}}
          ],
          "resolve": {"axis": {"x": "independent", "y": "independent"}}
        },
        {
          "width": 112, "height": 891,
          "data": {"name": "panels"},
          "transform": [{"filter": "datum.p == 5"}],
          "layer": [
            {"mark": {"type": "rect"},
             "encoding": {
               "x": {"datum": 0, "type": "quantitative", "scale": {"domain": [0, 1], "nice": false},
                 "axis": {"orient": "bottom", "title": null, "values": [0.5], "grid": false, "tickSize": -11, "labelExpr": "['01 Oct.', '07 Oct.']", "labelFontSize": 33, "labelLineHeight": 44, "labelPadding": 35}},
               "x2": {"datum": 1},
               "y": {"datum": 0, "type": "quantitative", "scale": {"domain": [0, 1.5], "nice": false},
                 "axis": {"orient": "left", "title": null, "labels": false, "values": [0, 0.1, 0.2, 0.3, 0.4, 0.5, 0.6, 0.7, 0.8, 0.9, 1.0, 1.1, 1.2, 1.3, 1.4, 1.5], "grid": true,
                   "gridColor": {"condition": {"test": "abs(datum.value-0.5)<0.01 || abs(datum.value-1)<0.01", "value": "#5e5e5e"}, "value": "#b8b8b8"},
                   "gridDash": {"condition": {"test": "abs(datum.value-0.5)<0.01 || abs(datum.value-1)<0.01", "value": [10, 0]}, "value": [3, 4]},
                   "gridWidth": 2.5, "tickSize": -10,
                   "tickOpacity": {"condition": {"test": "abs(datum.value-0.5)<0.01 || abs(datum.value-1)<0.01", "value": 1}, "value": 0}, "zindex": 1}},
               "y2": {"datum": 1.5},
               "fill": {"condition": {"test": "datum.shade", "value": "#b4f8fa"}, "value": "#ffffff"}
             }},
            {"mark": {"type": "rect", "fill": "#ebebeb", "stroke": "#000000", "strokeDash": [7, 5], "strokeWidth": 2},
             "encoding": {
               "x": {"datum": 0.3, "type": "quantitative", "axis": {"orient": "top", "title": null, "values": [0.5], "labels": false, "grid": false, "tickSize": -11}},
               "x2": {"datum": 0.7},
               "y": {"field": "bot", "type": "quantitative", "axis": {"orient": "right", "title": null, "values": [0.5, 1.0], "labels": false, "grid": false, "tickSize": -10}},
               "y2": {"field": "top"}
             }},
            {"mark": {"type": "point", "shape": "square", "filled": true, "color": "#000000", "size": 520, "opacity": 1},
             "encoding": {"x": {"datum": 0.5, "type": "quantitative", "axis": null}, "y": {"field": "q50", "type": "quantitative", "axis": null}}},
            {"mark": {"type": "point", "shape": "triangle-down", "filled": true, "color": "#0000ff", "size": 960, "opacity": 1},
             "encoding": {"x": {"datum": 0.5, "type": "quantitative", "axis": null}, "y": {"field": "q15", "type": "quantitative", "axis": null}}},
            {"mark": {"type": "point", "shape": "triangle-up", "filled": true, "color": "#0000ff", "size": 960, "opacity": 1},
             "encoding": {"x": {"datum": 0.5, "type": "quantitative", "axis": null}, "y": {"field": "q85", "type": "quantitative", "axis": null}}}
          ],
          "resolve": {"axis": {"x": "independent", "y": "independent"}}
        },
        {
          "width": 112, "height": 891,
          "data": {"name": "panels"},
          "transform": [{"filter": "datum.p == 6"}],
          "layer": [
            {"mark": {"type": "rect"},
             "encoding": {
               "x": {"datum": 0, "type": "quantitative", "scale": {"domain": [0, 1], "nice": false},
                 "axis": {"orient": "bottom", "title": null, "values": [0.5], "grid": false, "tickSize": -11, "labelExpr": "['08 Oct.', '14 Oct.']", "labelFontSize": 33, "labelLineHeight": 44, "labelPadding": 35}},
               "x2": {"datum": 1},
               "y": {"datum": 0, "type": "quantitative", "scale": {"domain": [0, 1.5], "nice": false},
                 "axis": {"orient": "left", "title": null, "labels": false, "values": [0, 0.1, 0.2, 0.3, 0.4, 0.5, 0.6, 0.7, 0.8, 0.9, 1.0, 1.1, 1.2, 1.3, 1.4, 1.5], "grid": true,
                   "gridColor": {"condition": {"test": "abs(datum.value-0.5)<0.01 || abs(datum.value-1)<0.01", "value": "#5e5e5e"}, "value": "#b8b8b8"},
                   "gridDash": {"condition": {"test": "abs(datum.value-0.5)<0.01 || abs(datum.value-1)<0.01", "value": [10, 0]}, "value": [3, 4]},
                   "gridWidth": 2.5, "tickSize": -10,
                   "tickOpacity": {"condition": {"test": "abs(datum.value-0.5)<0.01 || abs(datum.value-1)<0.01", "value": 1}, "value": 0}, "zindex": 1}},
               "y2": {"datum": 1.5},
               "fill": {"condition": {"test": "datum.shade", "value": "#b4f8fa"}, "value": "#ffffff"}
             }},
            {"mark": {"type": "rect", "fill": "#ebebeb", "stroke": "#000000", "strokeDash": [7, 5], "strokeWidth": 2},
             "encoding": {
               "x": {"datum": 0.3, "type": "quantitative", "axis": {"orient": "top", "title": null, "values": [0.5], "labels": false, "grid": false, "tickSize": -11}},
               "x2": {"datum": 0.7},
               "y": {"field": "bot", "type": "quantitative", "axis": {"orient": "right", "title": null, "values": [0, 0.5, 1.0, 1.5], "format": ".1f", "labelFontSize": 47, "labelPadding": 28, "grid": false, "tickSize": -10,
                 "tickOpacity": {"condition": {"test": "abs(datum.value-0.5)<0.01 || abs(datum.value-1)<0.01", "value": 1}, "value": 0}}},
               "y2": {"field": "top"}
             }},
            {"mark": {"type": "point", "shape": "square", "filled": true, "color": "#000000", "size": 520, "opacity": 1},
             "encoding": {"x": {"datum": 0.5, "type": "quantitative", "axis": null}, "y": {"field": "q50", "type": "quantitative", "axis": null}}},
            {"mark": {"type": "point", "shape": "triangle-down", "filled": true, "color": "#0000ff", "size": 960, "opacity": 1},
             "encoding": {"x": {"datum": 0.5, "type": "quantitative", "axis": null}, "y": {"field": "q15", "type": "quantitative", "axis": null}}},
            {"mark": {"type": "point", "shape": "triangle-up", "filled": true, "color": "#0000ff", "size": 960, "opacity": 1},
             "encoding": {"x": {"datum": 0.5, "type": "quantitative", "axis": null}, "y": {"field": "q85", "type": "quantitative", "axis": null}}}
          ],
          "resolve": {"axis": {"x": "independent", "y": "independent"}}
        }
      ]
    }
  ]
}
